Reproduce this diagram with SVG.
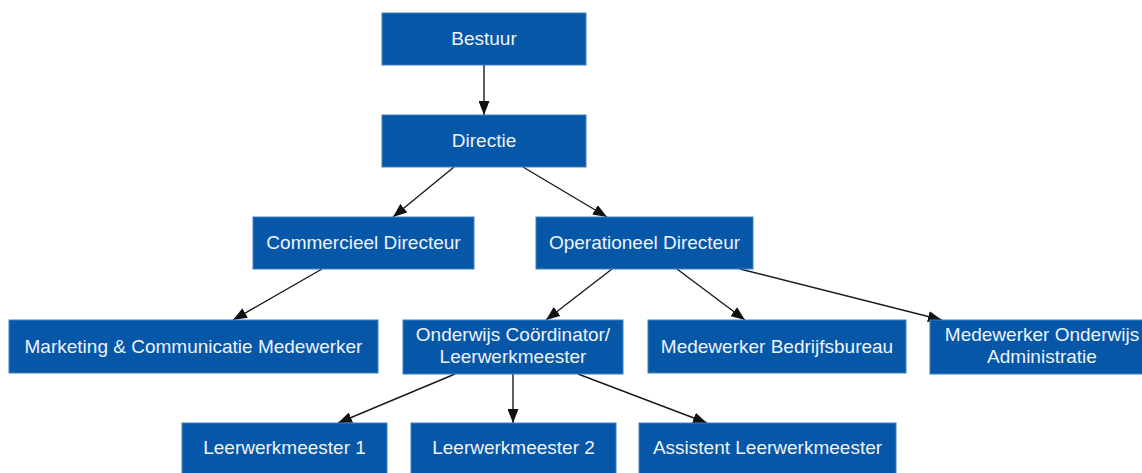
<svg xmlns="http://www.w3.org/2000/svg" width="1142" height="473" viewBox="0 0 1142 473">
<style>
.box{fill:#0657a8;stroke:#3f80c2;stroke-width:1}
.t{font-family:"Liberation Sans",Arial,sans-serif;font-size:19px;fill:#eef3fa;text-anchor:middle}
.e{stroke:#1a1a1a;stroke-width:1.4;fill:none;marker-end:url(#ah)}
</style>
<defs>
<marker id="ah" markerUnits="userSpaceOnUse" markerWidth="14" markerHeight="11" refX="14" refY="5.5" orient="auto">
<path d="M0,0 L14,5.5 L0,11 z" fill="#111"/>
</marker>
</defs>
<rect width="1142" height="473" fill="#ffffff"/>
<g id="connectors">
<line class="e" x1="484" y1="65" x2="484" y2="115"/>
<line class="e" x1="454" y1="167" x2="393" y2="217"/>
<line class="e" x1="523" y1="167" x2="607" y2="217"/>
<line class="e" x1="322" y1="269" x2="233" y2="320"/>
<line class="e" x1="612" y1="269" x2="546" y2="320"/>
<line class="e" x1="677" y1="269" x2="745" y2="320"/>
<line class="e" x1="740" y1="269" x2="942" y2="320"/>
<line class="e" x1="455" y1="374" x2="338" y2="423"/>
<line class="e" x1="513" y1="374" x2="513" y2="423"/>
<line class="e" x1="578" y1="374" x2="707" y2="423"/>
</g>
<g id="bestuur"><rect class="box" x="382" y="13" width="204" height="52"/><text class="t" x="484" y="45">Bestuur</text></g>
<g id="directie"><rect class="box" x="382" y="115" width="204" height="52"/><text class="t" x="484" y="147">Directie</text></g>
<g id="commercieel"><rect class="box" x="253" y="217" width="221" height="52"/><text class="t" x="363.5" y="249">Commercieel Directeur</text></g>
<g id="operationeel"><rect class="box" x="536" y="217" width="217" height="52"/><text class="t" x="644.5" y="249">Operationeel Directeur</text></g>
<g id="marketing"><rect class="box" x="9" y="320" width="369" height="53"/><text class="t" x="193.5" y="353">Marketing &amp; Communicatie Medewerker</text></g>
<g id="onderwijs"><rect class="box" x="403" y="320" width="220" height="54"/><text class="t" x="513" y="341">Onderwijs Coördinator/</text><text class="t" x="513" y="362.5">Leerwerkmeester</text></g>
<g id="bedrijfsbureau"><rect class="box" x="648" y="320" width="258" height="53"/><text class="t" x="777" y="353">Medewerker Bedrijfsbureau</text></g>
<g id="administratie"><rect class="box" x="930" y="320" width="224" height="54"/><text class="t" x="1042" y="341">Medewerker Onderwijs</text><text class="t" x="1042" y="362.5">Administratie</text></g>
<g id="leerwerkmeester1"><rect class="box" x="182" y="423" width="205" height="60"/><text class="t" x="284.5" y="454">Leerwerkmeester 1</text></g>
<g id="leerwerkmeester2"><rect class="box" x="411" y="423" width="205" height="60"/><text class="t" x="513.5" y="454">Leerwerkmeester 2</text></g>
<g id="assistent"><rect class="box" x="639" y="423" width="257" height="60"/><text class="t" x="767.5" y="454">Assistent Leerwerkmeester</text></g>
</svg>
